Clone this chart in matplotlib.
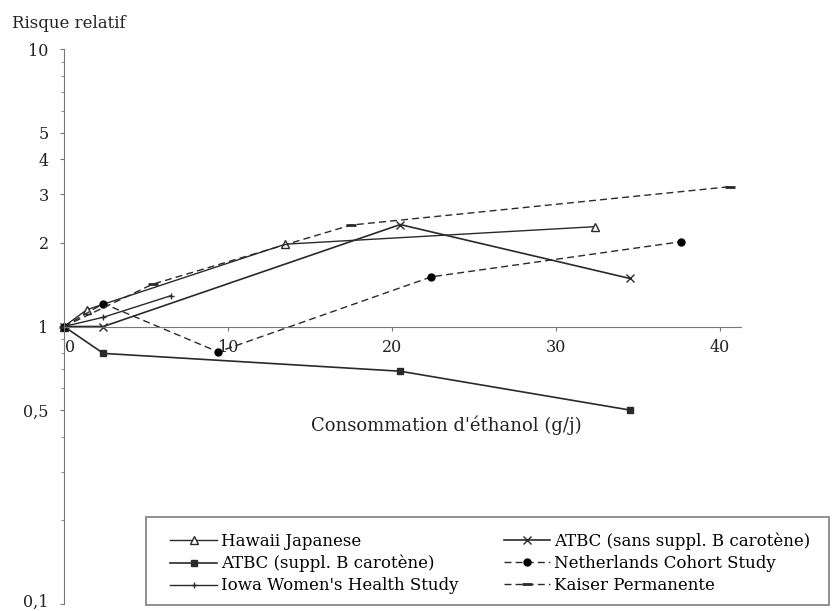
import matplotlib
matplotlib.use("Agg")
import matplotlib.pyplot as plt
import matplotlib.transforms as mtransforms
from matplotlib.patches import Rectangle
import numpy as np

plt.rcParams['font.family'] = ['DejaVu Serif']

# donnees (ethanol en g/j, risque relatif)
hawaii_x = [0, 1.4, 13.5, 32.4]
hawaii_y = [1.0, 1.15, 1.98, 2.29]

atbc_sans_x = [0, 2.4, 20.5, 34.5]
atbc_sans_y = [1.0, 1.0, 2.33, 1.49]

atbc_suppl_x = [0, 2.4, 20.5, 34.5]
atbc_suppl_y = [1.0, 0.80, 0.69, 0.50]

nether_x = [0, 2.4, 9.4, 22.4, 37.6]
nether_y = [1.0, 1.21, 0.81, 1.51, 2.02]

iowa_x = [0, 2.4, 6.5]
iowa_y = [1.0, 1.08, 1.29]

kaiser_x = [0, 5.4, 17.5, 40.6]
kaiser_y = [1.0, 1.42, 2.32, 3.19]

x_ticks = [0, 10, 20, 30, 40]
y_ticks = [0.1, 0.5, 1, 2, 3, 4, 5, 10]
y_tick_labels = ['0,1', '0,5', '1', '2', '3', '4', '5', '10']
y_minor = [0.2, 0.3, 0.4, 0.6, 0.7, 0.8, 0.9, 6, 7, 8, 9]

W, H = 834, 611
c = '#2a2a2a'
fig = plt.figure(figsize=(W/100, H/100), dpi=100)
ax = fig.add_axes([64/W, 1 - 604/H, 41.3*16.4/W, (604 - 49)/H])
ax.set_yscale('log')
ax.set_xlim(0, 41.3)
ax.set_ylim(0.1, 10)

ax.plot(hawaii_x, hawaii_y, '-', color=c, lw=1, marker='^', ms=6, mfc='white', mec=c,
        label='Hawaii Japanese', clip_on=False)
ax.plot(atbc_suppl_x, atbc_suppl_y, '-', color=c, lw=1.2, marker='s', ms=4, mfc=c, mec=c,
        label='ATBC (suppl. B carotène)', clip_on=False)
ax.plot(iowa_x, iowa_y, '-', color=c, lw=1, marker='+', ms=5, mec=c,
        label="Iowa Women's Health Study", clip_on=False)
ax.plot(atbc_sans_x, atbc_sans_y, '-', color=c, lw=1.2, marker='x', ms=6, mec=c,
        label='ATBC (sans suppl. B carotène)', clip_on=False)
ax.plot(nether_x, nether_y, '--', color=c, lw=1, dashes=(5, 3), marker='o', ms=5, mfc='black', mec='black',
        label='Netherlands Cohort Study', clip_on=False)
ax.plot(kaiser_x, kaiser_y, '--', color=c, lw=1, dashes=(5, 3), marker='_', ms=7, mew=2, mec=c,
        label='Kaiser Permanente', clip_on=False)

# axes
for s in ['top', 'right']:
    ax.spines[s].set_visible(False)
ax.spines['left'].set_color('#777777')
ax.spines['bottom'].set_color('#777777')
ax.spines['bottom'].set_position(('data', 1))

ax.set_xticks(x_ticks)
ax.set_xticklabels([str(v) for v in x_ticks])
ax.set_yticks(y_ticks)
ax.set_yticklabels(y_tick_labels)
ax.set_yticks(y_minor, minor=True)
ax.yaxis.set_minor_formatter(matplotlib.ticker.NullFormatter())
ax.tick_params(axis='both', which='both', direction='out', color='#777777', labelsize=11.5, labelcolor='#222222')
ax.tick_params(axis='y', which='major', length=3, pad=8)
ax.tick_params(axis='y', which='minor', length=2)
ax.tick_params(axis='x', length=3, pad=6)
ax.xaxis.set_minor_locator(matplotlib.ticker.NullLocator())

# petits decalages: "0,1" remonte un peu, "0" a droite de l'axe
lab01 = ax.get_yticklabels()[0]
lab01.set_transform(lab01.get_transform() + mtransforms.ScaledTranslation(0, 4/100, fig.dpi_scale_trans))
lab0 = ax.get_xticklabels()[0]
lab0.set_transform(lab0.get_transform() + mtransforms.ScaledTranslation(6/100, 0, fig.dpi_scale_trans))

ax.text(23.3, 0.44, "Consommation d'éthanol (g/j)", ha='center', va='center', fontsize=13, color='#222222')
fig.text(12/W, 1 - 23/H, 'Risque relatif', ha='left', va='center', fontsize=12, color='#222222')

# cadre de la legende
fig.patches.append(Rectangle((146/W, 1 - 605/H), (829 - 146)/W, (605 - 517)/H,
                             transform=fig.transFigure, fill=False, edgecolor='#888888', lw=1.3))
leg = fig.legend(loc='upper left', bbox_to_anchor=(162/W, 1 - 524/H), ncol=2,
                 fontsize=12, frameon=False,
                 handlelength=2.8, handletextpad=0.25, columnspacing=2.7, labelspacing=0.3,
                 borderpad=0.5, borderaxespad=0)

fig.savefig('out.png', dpi=100)
